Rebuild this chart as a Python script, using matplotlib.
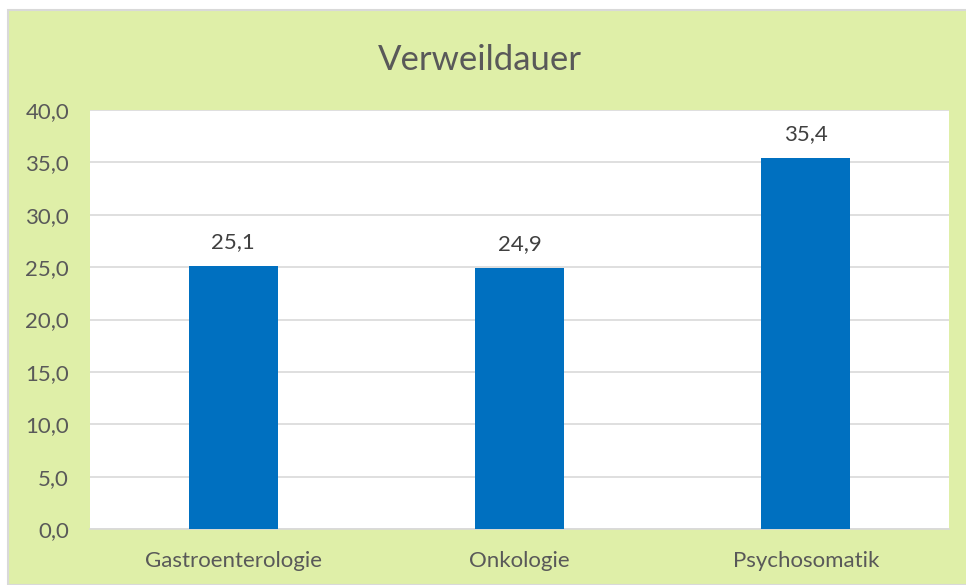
import matplotlib
matplotlib.use("Agg")
import matplotlib.pyplot as plt
from matplotlib.patches import Rectangle
from matplotlib.ticker import FuncFormatter

categories = ["Gastroenterologie", "Onkologie", "Psychosomatik"]
values = [25.1, 24.9, 35.4]
yticks = [0, 5, 10, 15, 20, 25, 30, 35, 40]

plt.rcParams['font.family'] = ['Lato', 'DejaVu Sans']
txt = '#595959'
fig = plt.figure(figsize=(9.66, 5.85), dpi=100)
fig.patch.set_facecolor('white')
fig.add_artist(Rectangle((8/966, 0), 1.0, 1 - 10/585, transform=fig.transFigure,
                         facecolor='#DFEFA8', edgecolor='#D9D9D9', linewidth=1.5, zorder=0))

ax = fig.add_axes([90/966, 1 - 529/585, (949 - 90)/966, (529 - 110)/585])
ax.set_facecolor('white')
x = range(len(categories))
bars = ax.bar(x, values, width=0.31, color='#0070C0', zorder=3)
ax.set_xlim(-0.5, len(categories) - 0.5)
ax.set_ylim(0, 40)
ax.set_yticks(yticks)
ax.yaxis.set_major_formatter(FuncFormatter(lambda v, p: f"{v:.1f}".replace('.', ',')))
ax.set_xticks(list(x))
ax.set_xticklabels(categories)
ax.tick_params(axis='both', length=0, labelsize=16, colors=txt)
ax.tick_params(axis='x', pad=16)
ax.tick_params(axis='y', pad=15)
ax.grid(axis='y', color='#D9D9D9', linewidth=1.2, zorder=0)
for s in ['top', 'right', 'left']:
    ax.spines[s].set_visible(False)
ax.spines['bottom'].set_color('#D9D9D9')
ax.spines['bottom'].set_linewidth(1.2)
for b, v in zip(bars, values):
    ax.annotate(f"{v:.1f}".replace('.', ','), (b.get_x() + b.get_width()/2, v),
                xytext=(0, 10), textcoords='offset points', ha='center', va='bottom',
                fontsize=16, color='#404040')
fig.text(480 / 966, 1 - 60/585, "Verweildauer", ha='center', va='center',
         fontsize=25, color=txt)
fig.savefig('out.png', dpi=100)
